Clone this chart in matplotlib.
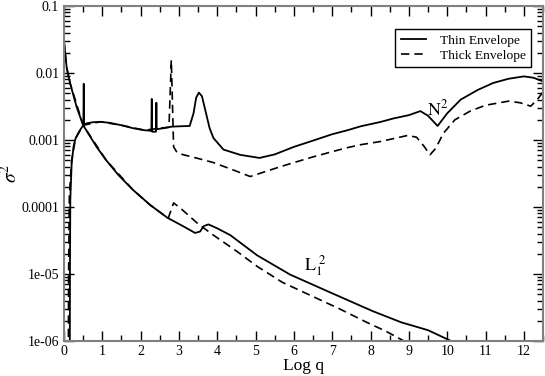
import numpy as np
import matplotlib.pyplot as plt
from matplotlib.ticker import FixedLocator, MultipleLocator, LogLocator, NullFormatter

plt.rcParams['font.family'] = ['Liberation Serif', 'DejaVu Serif']
plt.rcParams['mathtext.fontset'] = 'stix'

# N^2, thin envelope
n2_thin_x = [0.14, 0.15, 0.155, 0.165, 0.2, 0.25, 0.3, 0.37, 0.45, 0.505, 0.515, 0.525,
             0.6, 0.75, 0.95, 1.2, 1.5, 1.8, 2.1, 2.28, 2.29, 2.30, 2.40, 2.41, 2.42,
             2.6, 2.8, 3.0, 3.28, 3.38, 3.45, 3.52, 3.6, 3.7, 3.8, 3.9, 4.16, 4.6, 5.1,
             5.5, 6.0, 6.5, 7.0, 7.4, 7.74, 8.26, 8.6, 9.0, 9.3, 9.5, 9.75, 10.0, 10.35,
             10.8, 11.2, 11.6, 12.0, 12.25, 12.5]
n2_thin_y = [1e-9, 2e-7, 1e-5, 1.3e-4, 4.5e-4, 8e-4, 1.05e-3, 1.26e-3, 1.5e-3, 1.66e-3, 6.9e-3, 1.7e-3,
             1.78e-3, 1.84e-3, 1.87e-3, 1.8e-3, 1.66e-3, 1.5e-3, 1.4e-3, 1.37e-3, 4.1e-3, 1.33e-3, 1.33e-3, 3.6e-3, 1.45e-3,
             1.5e-3, 1.58e-3, 1.6e-3, 1.62e-3, 2.5e-3, 4.3e-3, 5.1e-3, 4.5e-3, 2.6e-3, 1.5e-3, 1.07e-3, 7.2e-4, 6.0e-4, 5.4e-4,
             6.1e-4, 7.9e-4, 9.8e-4, 1.22e-3, 1.4e-3, 1.6e-3, 1.86e-3, 2.1e-3, 2.35e-3, 2.7e-3, 2.3e-3, 1.62e-3, 2.5e-3, 4.0e-3,
             5.6e-3, 7.1e-3, 8.2e-3, 8.9e-3, 8.5e-3, 7.5e-3]

# N^2, thick envelope
n2_thick_x = [0.1, 0.11, 0.12, 0.14, 0.2, 0.3, 0.5, 0.95, 1.5, 2.1, 2.5, 2.74,
              2.80, 2.86, 2.95, 3.03, 3.5, 3.9, 4.4, 4.86, 5.2, 5.65, 6.0, 6.5,
              7.0, 7.4, 7.74, 8.26, 8.97, 9.2, 9.4, 9.55, 9.7, 9.9, 10.2, 10.6,
              11.0, 11.6, 11.9, 12.18, 12.35, 12.5]
n2_thick_y = [1e-9, 1e-7, 1e-5, 1.5e-4, 5e-4, 1.05e-3, 1.66e-3, 1.87e-3, 1.66e-3, 1.4e-3, 1.5e-3, 1.55e-3,
              1.56e-2, 7.9e-4, 6.5e-4, 6.2e-4, 5.3e-4, 4.6e-4, 3.6e-4, 2.85e-4, 3.3e-4, 4.0e-4, 4.6e-4, 5.6e-4,
              6.7e-4, 7.7e-4, 8.5e-4, 9.5e-4, 1.17e-3, 1.1e-3, 8e-4, 6.0e-4, 7.5e-4, 1.26e-3, 2.0e-3, 2.7e-3,
              3.3e-3, 3.8e-3, 3.6e-3, 3.2e-3, 4.0e-3, 5.2e-3]

# L1^2, thin envelope
l1_thin_x = [0.0, 0.07, 0.16, 0.33, 0.5, 0.85, 1.1, 1.42, 1.8, 2.25, 2.7, 3.1, 3.42,
             3.55, 3.65, 3.77, 4.0, 4.34, 5.04, 5.9, 6.95, 8.05, 8.8, 9.5, 10.1, 10.3]
l1_thin_y = [3.0e-2, 1.2e-2, 7.0e-3, 3.1e-3, 1.66e-3, 7.9e-4, 5.0e-4, 3.0e-4, 1.8e-4, 1.07e-4, 6.9e-5, 5.2e-5, 4.1e-5,
             4.3e-5, 5.2e-5, 5.5e-5, 4.8e-5, 3.8e-5, 1.9e-5, 9.8e-6, 5.3e-6, 2.8e-6, 1.9e-6, 1.45e-6, 1.0e-6, 8e-7]

# L1^2, thick envelope
l1_thick_x = [0.0, 0.07, 0.16, 0.5, 1.1, 1.8, 2.25, 2.72, 2.86, 3.03, 3.5, 3.9, 4.5,
              5.04, 5.7, 6.5, 7.2, 7.9, 8.4, 8.87, 9.0]
l1_thick_y = [3.0e-2, 1.2e-2, 7.0e-3, 1.66e-3, 5.0e-4, 1.8e-4, 1.07e-4, 6.8e-5, 1.15e-4, 9.7e-5, 5.6e-5, 3.8e-5, 2.2e-5,
              1.3e-5, 7.5e-6, 4.6e-6, 3.0e-6, 1.9e-6, 1.4e-6, 1.0e-6, 9e-7]

ytick_vals = [1e-6, 1e-5, 1e-4, 1e-3, 1e-2, 1e-1]
ytick_labels = ['1e-06', '1e-05', '0.0001', '0.001', '0.01', '0.1']

fig = plt.figure(figsize=(5.45, 3.76), dpi=100)
ax = fig.add_axes([64/545, 1 - 341/376, 479/545, 335/376])

ax.plot(n2_thin_x, n2_thin_y, color='k', lw=1.3, label='Thin Envelope')
ax.plot(n2_thick_x, n2_thick_y, color='k', lw=1.2, dashes=(5, 3), label='Thick Envelope')
ax.plot(l1_thin_x, l1_thin_y, color='k', lw=1.3)
ax.plot(l1_thick_x, l1_thick_y, color='k', lw=1.2, dashes=(5, 3))

ax.set_yscale('log')
ax.set_xlim(0, 12.5)
ax.set_ylim(1e-6, 0.1)
ax.yaxis.set_major_locator(FixedLocator(ytick_vals))
ax.set_yticklabels(ytick_labels)
ax.yaxis.set_minor_locator(LogLocator(base=10, subs=np.arange(2, 10)))
ax.yaxis.set_minor_formatter(NullFormatter())
ax.xaxis.set_major_locator(MultipleLocator(1))
ax.xaxis.set_minor_locator(MultipleLocator(0.5))

ax.tick_params(which='both', direction='in', top=True, right=True, labelsize=10)
ax.tick_params(which='major', length=7, width=1)
ax.tick_params(which='minor', length=4, width=1)
ax.tick_params(axis='x', pad=3)
for s in ax.spines.values():
    s.set_color('0.5')
    s.set_linewidth(1.5)

ax.set_xlabel('Log q', fontsize=12.5)
ax.set_ylabel(r'$\sigma^2$', fontsize=14)
ax.yaxis.set_label_coords(-0.09, 0.5)
ax.xaxis.set_label_coords(0.5, -0.05)

ax.text(9.75, 2.9e-3, r'$\mathrm{N}^2$', fontsize=13, ha='center', va='center')
ax.text(6.55, 1.35e-5, r'$\mathrm{L}_1^{\,\,2}$', fontsize=13, ha='center', va='center')

leg = ax.legend(loc='upper right', bbox_to_anchor=(0.975, 0.931), fontsize=9.7,
                fancybox=False, framealpha=1, edgecolor='k', handlelength=1.9,
                handletextpad=1.0, borderpad=0.4, labelspacing=0.2, borderaxespad=0)
leg.get_frame().set_linewidth(1.0)

fig.savefig('out.png', dpi=100)
